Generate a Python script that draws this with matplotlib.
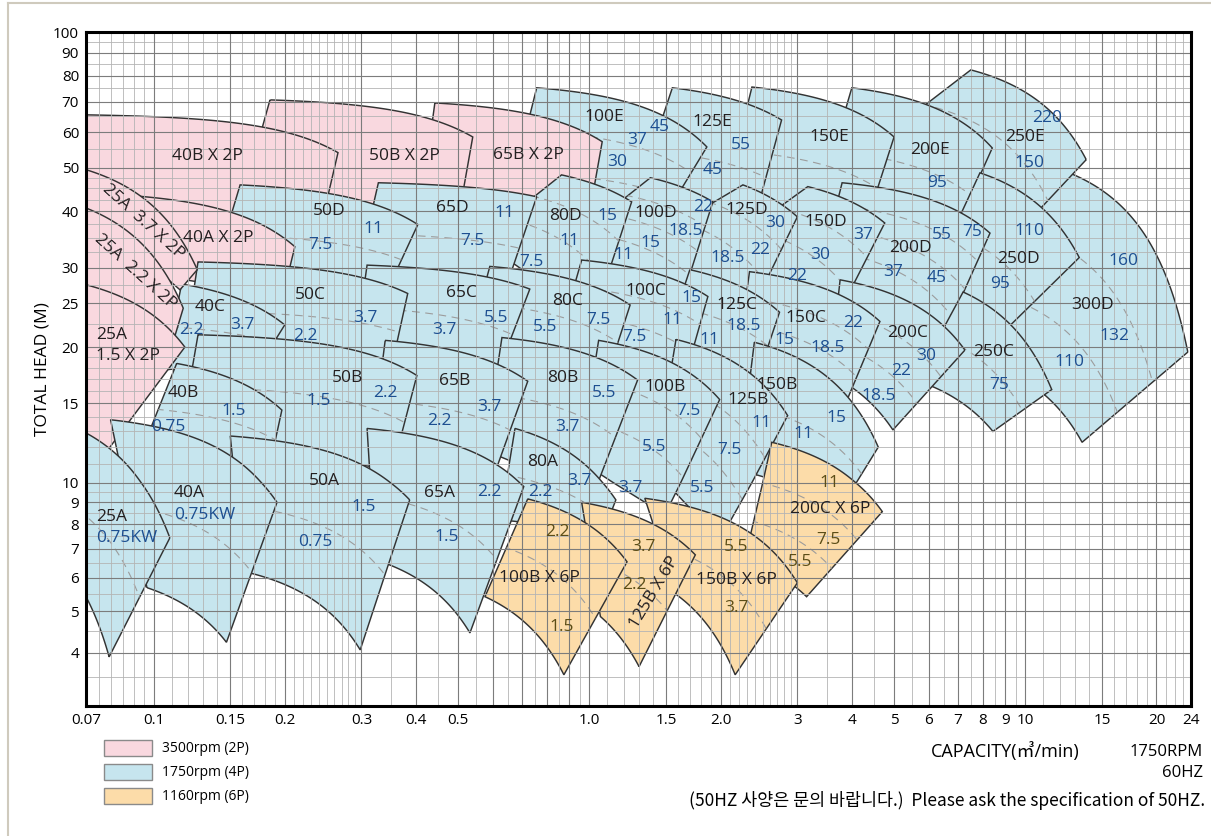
import numpy as np
import matplotlib
matplotlib.use("Agg")
import matplotlib.pyplot as plt
from matplotlib.patches import Polygon, Rectangle

# ---- colours ----
FILL = {"2P": "#f9d8df", "4P": "#c6e5ee", "6P": "#fcdca9"}
KW_COLOR = {"2P": "#1d4f91", "4P": "#1d4f91", "6P": "#5b4d17"}

# ---- tiles: name, speed, TL, TR, BR, BL (Q m3/min, H m), dashed curves ----
# listed in drawing order (back to front)
TILES = [
    ("300D", "4P", (10.0, 52.1), (23.6, 19.5), (13.5, 12.3), (8.0, 18.6), 2),
    # top row
    ("250E", "4P", (7.5, 82.4), (13.8, 52.1), (9.2, 34.3), (4.64, 57.7), 1),
    ("200E", "4P", (4.0, 75.2), (8.4, 55.3), (6.71, 34.1), (3.29, 39.3), 1),
    ("150E", "4P", (2.36, 75.5), (5.0, 58.5), (4.2, 34.6), (2.0, 39.3), 1),
    ("125E", "4P", (1.55, 75.2), (2.76, 63.8), (2.34, 35.5), (1.24, 39.3), 1),
    ("100E", "4P", (0.757, 75.2), (1.86, 55.6), (1.45, 37.4), (0.64, 39.3), 2),
    ("65B X 2P", "2P", (0.442, 69.6), (1.07, 57.1), (0.99, 37.4), (0.408, 39.3), 0),
    ("50B X 2P", "2P", (0.185, 70.7), (0.54, 58.5), (0.495, 36.4), (0.154, 37.4), 0),
    ("40B X 2P", "2P", (0.07, 65.5), (0.265, 54.0), (0.239, 35.2), (0.07, 38.0), 0),
    # row D
    ("250D", "4P", (7.87, 48.7), (13.3, 31.6), (8.3, 20.2), (5.88, 26.5), 1),
    ("200D", "4P", (3.8, 46.3), (8.3, 35.8), (6.37, 20.2), (3.38, 29.4), 3),
    ("150D", "4P", (3.17, 45.4), (4.76, 37.7), (3.6, 22.2), (2.0, 32.9), 2),
    ("125D", "4P", (2.25, 45.8), (3.0, 38.9), (2.33, 23.6), (1.38, 34.6), 2),
    ("100D", "4P", (1.38, 47.5), (1.92, 42.0), (1.63, 25.5), (0.855, 32.9), 3),
    ("80D", "4P", (0.863, 48.2), (1.25, 42.0), (1.02, 23.0), (0.561, 34.6), 2),
    ("65D", "4P", (0.328, 46.3), (0.757, 43.1), (0.63, 25.5), (0.29, 27.5), 1),
    ("50D", "4P", (0.158, 45.8), (0.404, 37.4), (0.34, 26.1), (0.135, 27.5), 1),
    ("40A X 2P", "2P", (0.085, 43.5), (0.211, 33.4), (0.198, 26.0), (0.08, 30.0), 0),
    # row C
    ("250C", "4P", (7.2, 26.5), (11.5, 16.1), (8.43, 13.0), (5.6, 16.9), 1),
    ("200C", "4P", (3.76, 28.2), (7.27, 19.7), (4.97, 13.1), (3.56, 17.4), 2),
    ("150C", "4P", (2.33, 29.4), (4.64, 22.8), (3.86, 14.9), (2.2, 19.7), 2),
    ("125C", "4P", (1.70, 29.7), (2.73, 23.9), (2.42, 16.9), (1.49, 20.2), 1),
    ("100C", "4P", (0.96, 31.2), (1.87, 25.9), (1.65, 16.9), (0.85, 20.7), 2),
    ("80C", "4P", (0.591, 30.2), (1.24, 24.8), (1.09, 16.9), (0.532, 20.7), 1),
    ("65C", "4P", (0.309, 30.4), (0.73, 26.9), (0.607, 16.9), (0.29, 19.7), 1),
    ("50C", "4P", (0.1265, 30.9), (0.383, 26.3), (0.35, 17.7), (0.117, 18.7), 1),
    ("40C", "4P", (0.116, 27.6), (0.2, 22.4), (0.178, 18.7), (0.106, 17.8), 1),
    # row B
    ("150B", "4P", (2.39, 20.5), (4.6, 12.0), (3.86, 9.12), (2.2, 10.7), 1),
    ("125B", "4P", (1.58, 20.8), (2.85, 14.1), (1.99, 7.35), (1.41, 10.7), 2),
    ("100B", "4P", (1.05, 20.7), (1.99, 15.3), (1.49, 8.42), (0.95, 11.2), 2),
    ("80B", "4P", (0.63, 21.0), (1.29, 16.9), (1.02, 9.4), (0.576, 11.8), 1),
    ("65B", "4P", (0.34, 20.7), (0.722, 16.8), (0.6, 10.2), (0.314, 11.2), 1),
    ("50B", "4P", (0.1265, 21.3), (0.402, 17.3), (0.353, 10.7), (0.115, 12.5), 1),
    ("40B", "4P", (0.113, 18.4), (0.197, 14.5), (0.184, 10.7), (0.093, 11.5), 1),
    # small 2P pumps at the left edge
    ("25A 3.7 X 2P", "2P", (0.07, 49.5), (0.126, 29.7), (0.115, 26.8), (0.07, 40.7), 0),
    ("25A 2.2 X 2P", "2P", (0.07, 40.7), (0.117, 24.4), (0.11, 20.0), (0.07, 25.0), 0),
    ("25A 1.5 X 2P", "2P", (0.07, 27.5), (0.118, 20.0), (0.0753, 11.2), (0.07, 11.8), 0),
    # row A
    ("80A", "4P", (0.675, 13.2), (1.15, 9.12), (1.06, 7.35), (0.623, 8.19), 1),
    ("65A", "4P", (0.309, 13.2), (0.707, 9.8), (0.532, 4.45), (0.323, 6.6), 1),
    ("50A", "4P", (0.150, 12.7), (0.387, 9.12), (0.298, 4.06), (0.162, 6.19), 1),
    ("40A", "4P", (0.0797, 13.8), (0.192, 9.0), (0.147, 4.23), (0.0966, 5.68), 1),
    ("25A", "4P", (0.07, 12.9), (0.109, 7.43), (0.0791, 3.91), (0.07, 5.41), 1),
    # 6P
    ("200C X 6P", "6P", (2.62, 12.3), (4.7, 8.56), (3.15, 5.41), (2.27, 6.6), 2),
    ("150B X 6P", "6P", (1.34, 9.2), (3.0, 5.83), (2.16, 3.55), (1.58, 5.48), 1),
    ("125B X 6P", "6P", (0.96, 9.0), (1.75, 6.78), (1.3, 3.71), (1.06, 4.86), 1),
    ("100B X 6P", "6P", (0.722, 9.17), (1.22, 6.53), (0.874, 3.55), (0.576, 5.41), 1),
]
# tiles whose lower head curve is on show; the others are hidden behind the next row
CURVED_BOTTOM = {"300D", "250C", "200C", "80A", "65A", "50A", "40A", "25A",
                 "200C X 6P", "150B X 6P", "125B X 6P", "100B X 6P"}

# ---- labels ----
MODEL_LABELS = [
    ("40B X 2P", 0.133, 53.0, 0), ("50B X 2P", 0.377, 53.0, 0), ("65B X 2P", 0.726, 53.4, 0),
    ("40A X 2P", 0.141, 35.0, 0), ("25A  3.7 X 2P", 0.0946, 37.9, -42), ("25A  2.2 X 2P", 0.0906, 29.4, -42),
    ("100E", 1.08, 64.8, 0), ("125E", 1.91, 63.2, 0), ("150E", 3.56, 58.5, 0), ("200E", 6.04, 54.8, 0),
    ("250E", 10.0, 58.5, 0),
    ("50D", 0.253, 40.1, 0), ("65D", 0.484, 40.7, 0), ("80D", 0.88, 39.0, 0), ("100D", 1.42, 39.7, 0),
    ("125D", 2.29, 40.3, 0), ("150D", 3.48, 37.9, 0), ("200D", 5.46, 33.2, 0), ("250D", 9.66, 31.4, 0),
    ("300D", 14.3, 24.8, 0),
    ("40C", 0.135, 24.5, 0), ("50C", 0.229, 26.1, 0), ("65C", 0.51, 26.3, 0), ("80C", 0.89, 25.3, 0),
    ("100C", 1.35, 26.6, 0), ("125C", 2.18, 24.8, 0), ("150C", 3.13, 23.2, 0), ("200C", 5.37, 21.5, 0),
    ("250C", 8.44, 19.5, 0),
    ("40B", 0.117, 15.8, 0), ("50B", 0.279, 17.1, 0), ("65B", 0.492, 16.8, 0), ("80B", 0.868, 17.1, 0),
    ("100B", 1.49, 16.3, 0), ("125B", 2.31, 15.3, 0), ("150B", 2.7, 16.5, 0),
    ("40A", 0.121, 9.47, 0), ("50A", 0.247, 10.1, 0), ("65A", 0.454, 9.47, 0), ("80A", 0.78, 11.1, 0),
    ("100B X 6P", 0.769, 5.99, 0), ("125B X 6P", 1.41, 5.53, 59), ("150B X 6P", 2.17, 5.93, 0),
    ("200C X 6P", 3.56, 8.7, 0),
]
LEFT_LABELS = [("25A", 0.0737, 21.3, "k"), ("1.5 X 2P", 0.0737, 19.1, "k"),
               ("25A", 0.0737, 8.32, "k"), ("0.75KW", 0.0737, 7.43, "b")]
KW_LABELS_4P = [
    ("37", 1.29, 57.7), ("45", 1.45, 61.6), ("30", 1.16, 51.6),
    ("55", 2.23, 56.2), ("45", 1.92, 49.5), ("95", 6.27, 46.3),
    ("220", 11.2, 64.5), ("150", 10.2, 51.3),
    ("7.5", 0.241, 33.7), ("11", 0.32, 36.6), ("11", 0.64, 39.7), ("7.5", 0.538, 34.3),
    ("15", 1.10, 39.0), ("11", 0.90, 34.3), ("7.5", 0.738, 30.9),
    ("22", 1.82, 40.9), ("18.5", 1.66, 36.2), ("15", 1.38, 34.0), ("11", 1.20, 32.0),
    ("30", 2.67, 37.7), ("22", 2.46, 32.9), ("18.5", 2.08, 31.6),
    ("37", 4.24, 35.5), ("30", 3.38, 32.0), ("22", 3.0, 28.7),
    ("55", 6.44, 35.5), ("75", 7.55, 36.0), ("37", 4.97, 29.4), ("45", 6.27, 28.5),
    ("110", 10.2, 36.2), ("95", 8.75, 27.6),
    ("132", 16.0, 21.2), ("110", 12.6, 18.5), ("160", 16.8, 31.1),
    ("2.2", 0.122, 21.8), ("3.7", 0.16, 22.4), ("3.7", 0.307, 23.2), ("2.2", 0.223, 21.2),
    ("5.5", 0.611, 23.2), ("3.7", 0.466, 21.8), ("7.5", 1.05, 23.0), ("5.5", 0.79, 22.2),
    ("15", 1.71, 25.7), ("11", 1.55, 23.0), ("7.5", 1.27, 21.1),
    ("18.5", 2.26, 22.3), ("11", 1.89, 20.7),
    ("22", 4.03, 22.6), ("18.5", 3.53, 19.9), ("15", 2.8, 20.7),
    ("30", 5.94, 19.1), ("22", 5.2, 17.7), ("18.5", 4.6, 15.6), ("75", 8.7, 16.5),
    ("1.5", 0.153, 14.4), ("0.75", 0.108, 13.3), ("2.2", 0.34, 15.8), ("1.5", 0.239, 15.2),
    ("3.7", 0.591, 14.7), ("2.2", 0.452, 13.7), ("5.5", 1.08, 15.8), ("3.7", 0.892, 13.3),
    ("7.5", 1.69, 14.4), ("5.5", 1.41, 12.0), ("3.7", 1.24, 9.7),
    ("11", 2.48, 13.6), ("7.5", 2.1, 11.8), ("5.5", 1.81, 9.73),
    ("15", 3.68, 13.9), ("11", 3.1, 12.8),
    ("0.75KW", 0.131, 8.41), ("1.5", 0.304, 8.78), ("0.75", 0.235, 7.27),
    ("2.2", 0.591, 9.5), ("1.5", 0.47, 7.47), ("3.7", 0.95, 10.1), ("2.2", 0.773, 9.5),
]
KW_LABELS_6P = [
    ("2.2", 0.846, 7.65), ("1.5", 0.863, 4.6), ("2.2", 1.27, 5.77), ("3.7", 1.33, 7.07),
    ("3.7", 2.17, 5.09), ("5.5", 2.17, 7.07), ("11", 3.56, 10.0), ("7.5", 3.53, 7.35),
    ("5.5", 3.04, 6.53),
]

X_TICKS = [0.07, 0.1, 0.15, 0.2, 0.3, 0.4, 0.5, 1.0, 1.5, 2.0, 3, 4, 5, 6, 7, 8, 9, 10, 15, 20, 24]
X_TICK_LABELS = ["0.07", "0.1", "0.15", "0.2", "0.3", "0.4", "0.5", "1.0", "1.5", "2.0",
                 "3", "4", "5", "6", "7", "8", "9", "10", "15", "20", "24"]
Y_TICKS = [4, 5, 6, 7, 8, 9, 10, 15, 20, 25, 30, 40, 50, 60, 70, 80, 90, 100]

# ---- y axis: log, lower decade slightly compressed as in the printed chart ----
K = 427 / 451


def fwd(y):
    ly = np.log10(np.clip(np.asarray(y, dtype=float), 1e-6, None))
    return np.where(ly >= 1, ly, 1 + (ly - 1) * K)


def inv(v):
    v = np.asarray(v, dtype=float)
    return np.where(v >= 1, 10.0 ** v, 10.0 ** (1 + (v - 1) / K))


N_EXP = 2.5


def head(p1, p2, q=None, num=90):
    (q1, h1), (q2, h2) = p1, p2
    b = (h1 - h2) / (q2 ** N_EXP - q1 ** N_EXP)
    a = h1 + b * q1 ** N_EXP
    if q is None:
        q = np.geomspace(q1, q2, num)
    return q, a - b * q ** N_EXP


def straight(p1, p2, num=20):
    t = np.linspace(0, 1, num)
    q = np.exp(np.log(p1[0]) + t * (np.log(p2[0]) - np.log(p1[0])))
    h = np.exp(np.log(p1[1]) + t * (np.log(p2[1]) - np.log(p1[1])))
    return q, h


def lerp(p1, p2, f):
    return (np.exp(np.log(p1[0]) * (1 - f) + np.log(p2[0]) * f),
            np.exp(np.log(p1[1]) * (1 - f) + np.log(p2[1]) * f))


def outline(tl, tr, br, bl, curved):
    q1, h1 = head(tl, tr)
    q2, h2 = straight(tr, br)
    q3, h3 = head(bl, br) if curved else straight(bl, br)
    q4, h4 = straight(bl, tl)
    qs = np.concatenate([q1, q2, q3[::-1], q4])
    hs = np.concatenate([h1, h2, h3[::-1], h4])
    return np.column_stack([qs, hs])


fig = plt.figure(figsize=(12.11, 8.36), dpi=100)
ax = fig.add_axes([86 / 1211, 1 - 706 / 836, 1105 / 1211, 674 / 836])
ax.set_xscale("log")
ax.set_yscale("function", functions=(fwd, inv))
ax.set_xlim(0.07, 24)
ax.set_ylim(3, 100)

FONT = "Open Sans"

# tiles
for i, (name, spd, tl, tr, br, bl, nd) in enumerate(TILES):
    z = 1 + i * 0.01
    poly = Polygon(outline(tl, tr, br, bl, name in CURVED_BOTTOM), closed=True,
                   facecolor=FILL[spd], edgecolor="#333333", lw=1.05, zorder=z)
    ax.add_patch(poly)
    for k in range(nd):
        f = (k + 1) / (nd + 1)
        pl, pr = lerp(tl, bl, f), lerp(tr, br, f)
        q = np.geomspace(pl[0] * 0.8, pr[0] * 1.2, 120)
        _, h = head(pl, pr, q)
        m = h > 0.5
        ln, = ax.plot(q[m], h[m], color="#9c9c9c", lw=0.8, dashes=(7, 5), zorder=z + 0.005)
        ln.set_clip_path(poly)

# grid
minor_x = np.concatenate([np.arange(0.07, 0.1, 0.005), np.arange(0.1, 0.3, 0.01),
                          np.arange(0.3, 1.0, 0.05), np.arange(1.0, 3.0, 0.1),
                          np.arange(3.0, 10.0, 0.5), np.arange(10, 25, 1.0)])
major_x = [0.1, 0.15, 0.2, 0.3, 0.4, 0.5, 0.6, 0.7, 0.8, 0.9, 1.0, 1.5, 2, 3, 4, 5, 6, 7, 8, 9, 10, 15, 20]
minor_y = np.concatenate([np.arange(3.0, 10.0, 0.5), np.arange(10, 20, 1.0),
                          np.arange(20, 50, 2.5), np.arange(50, 100, 5.0)])
for v in minor_x:
    ax.axvline(v, color="#b4b4b4", lw=0.6, zorder=3)
for v in major_x:
    ax.axvline(v, color="#7c7c7c", lw=0.8, zorder=3.1)
for v in minor_y:
    ax.axhline(v, color="#b4b4b4", lw=0.6, zorder=3)
for v in Y_TICKS:
    ax.axhline(v, color="#7c7c7c", lw=0.8, zorder=3.1)

# labels
for txt, q, h, rot in MODEL_LABELS:
    ax.text(q, h, txt, ha="center", va="center", fontsize=12.5, color="#231f20",
            rotation=rot, rotation_mode="anchor", family=FONT, zorder=6)
for txt, q, h, c in LEFT_LABELS:
    ax.text(q, h, txt, ha="left", va="center", fontsize=12.5,
            color="#231f20" if c == "k" else KW_COLOR["4P"], family=FONT, zorder=6)
for txt, q, h in KW_LABELS_4P:
    ax.text(q, h, txt, ha="center", va="center", fontsize=12.5, color=KW_COLOR["4P"],
            family=FONT, zorder=6)
for txt, q, h in KW_LABELS_6P:
    ax.text(q, h, txt, ha="center", va="center", fontsize=12.5, color=KW_COLOR["6P"],
            family=FONT, zorder=6)

# axes
ax.set_xticks(X_TICKS)
ax.set_xticklabels(X_TICK_LABELS, family=FONT, fontsize=11)
ax.set_yticks(Y_TICKS)
ax.set_yticklabels([str(v) for v in Y_TICKS], family=FONT, fontsize=11)
ax.xaxis.set_minor_locator(matplotlib.ticker.NullLocator())
ax.yaxis.set_minor_locator(matplotlib.ticker.NullLocator())
ax.tick_params(length=0, pad=5)
for s in ax.spines.values():
    s.set_linewidth(2.2)
    s.set_zorder(7)
ax.set_ylabel("TOTAL HEAD (M)", family=FONT, fontsize=12.5, labelpad=2)

# legend
for j, (spd, lab) in enumerate([("2P", "3500rpm (2P)"), ("4P", "1750rpm (4P)"), ("6P", "1160rpm (6P)")]):
    y0 = 1 - (756 + 24 * j) / 836
    fig.add_artist(Rectangle((104 / 1211, y0), 48 / 1211, 16 / 836, transform=fig.transFigure,
                             facecolor=FILL[spd], edgecolor="#8a8a8a", lw=1.0))
    fig.text(162 / 1211, y0 + 8 / 836, lab, family=FONT, fontsize=10, va="center")

fig.text(1080 / 1211, 1 - 752 / 836, "CAPACITY(\u33a5/min)", ha="right", va="center", fontsize=13,
         family=[FONT, "Noto Sans CJK KR", "DejaVu Sans"])
fig.text(1203 / 1211, 1 - 752 / 836, "1750RPM", ha="right", va="center", fontsize=12, family=FONT)
fig.text(1203 / 1211, 1 - 773 / 836, "60HZ", ha="right", va="center", fontsize=12, family=FONT)
fig.text(1205 / 1211, 1 - 800 / 836,
         "(50HZ 사양은 문의 바랍니다.)  Please ask the specification of 50HZ.",
         ha="right", va="center", fontsize=12.5, family=["Noto Sans CJK KR", "DejaVu Sans"])

# outer frame of the printed sheet
fig.add_artist(plt.Line2D([8 / 1211, 8 / 1211], [0, 1 - 3 / 836], transform=fig.transFigure,
                          color="#cfcabd", lw=1.5))
fig.add_artist(plt.Line2D([8 / 1211, 1], [1 - 3 / 836, 1 - 3 / 836], transform=fig.transFigure,
                          color="#cfcabd", lw=1.5))

fig.savefig("out.png", dpi=100)
